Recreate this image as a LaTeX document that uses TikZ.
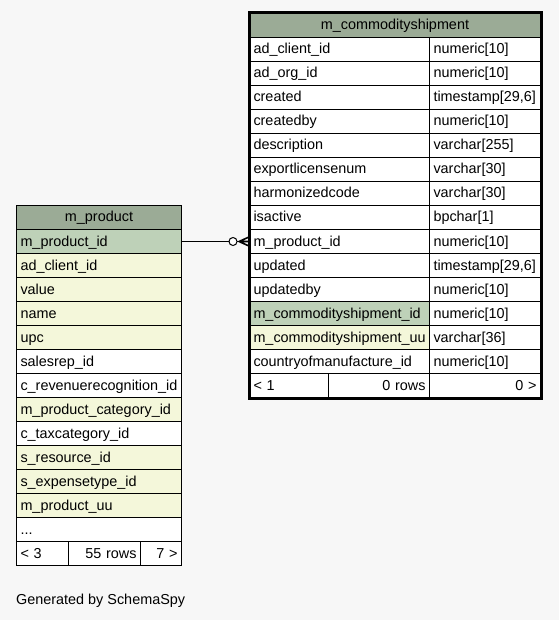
\documentclass[tikz,border=0pt]{standalone}
\usepackage{fontspec}
\setmainfont{Liberation Sans}
\definecolor{bg}{HTML}{F7F7F7}
\definecolor{hdr}{HTML}{9BAB96}
\definecolor{pk}{HTML}{BED1B8}
\definecolor{fk}{HTML}{F4F7DA}
\begin{document}
\begin{tikzpicture}[x=1pt,y=-1pt,
  cell/.style={draw=black, line width=1pt, anchor=north west, minimum height=24pt,
    inner xsep=4pt, inner ysep=0pt, text height=11.5pt, text depth=2.5pt,
    font=\fontsize{14.4}{16}\selectfont, align=left, fill=white},
  hdrcell/.style={cell, fill=hdr, align=center},
  pkcell/.style={cell, fill=pk},
  fkcell/.style={cell, fill=fk},
  rcell/.style={cell, align=right},
  ca/.style={minimum width=180pt, text width=172pt},
  cb/.style={minimum width=111pt, text width=103pt},
  pa/.style={minimum width=165pt, text width=157pt},
  conn/.style={draw=black, line width=1pt}]
\useasboundingbox (0,0) rectangle (559,620);
\fill[bg] (0,0) rectangle (559,620);

% right table
\node[hdrcell, minimum width=291pt, text width=283pt] (ch) at (249,13) {\mbox{m\_commodityshipment}};
\node[cell,ca] (c1) at (249,37) {\mbox{ad\_client\_id}};
\node[cell,cb] (t1) at (429,37) {\mbox{numeric[10]}};
\node[cell,ca] (c2) at (249,61) {\mbox{ad\_org\_id}};
\node[cell,cb] (t2) at (429,61) {\mbox{numeric[10]}};
\node[cell,ca] (c3) at (249,85) {\mbox{created}};
\node[cell,cb] (t3) at (429,85) {\mbox{timestamp[29,6]}};
\node[cell,ca] (c4) at (249,109) {\mbox{createdby}};
\node[cell,cb] (t4) at (429,109) {\mbox{numeric[10]}};
\node[cell,ca] (c5) at (249,133) {\mbox{description}};
\node[cell,cb] (t5) at (429,133) {\mbox{varchar[255]}};
\node[cell,ca] (c6) at (249,157) {\mbox{exportlicensenum}};
\node[cell,cb] (t6) at (429,157) {\mbox{varchar[30]}};
\node[cell,ca] (c7) at (249,181) {\mbox{harmonizedcode}};
\node[cell,cb] (t7) at (429,181) {\mbox{varchar[30]}};
\node[cell,ca] (c8) at (249,205) {\mbox{isactive}};
\node[cell,cb] (t8) at (429,205) {\mbox{bpchar[1]}};
\node[cell,ca] (c9) at (249,229) {\mbox{m\_product\_id}};
\node[cell,cb] (t9) at (429,229) {\mbox{numeric[10]}};
\node[cell,ca] (c10) at (249,253) {\mbox{updated}};
\node[cell,cb] (t10) at (429,253) {\mbox{timestamp[29,6]}};
\node[cell,ca] (c11) at (249,277) {\mbox{updatedby}};
\node[cell,cb] (t11) at (429,277) {\mbox{numeric[10]}};
\node[pkcell,ca] (c12) at (249,301) {\mbox{m\_commodityshipment\_id}};
\node[cell,cb] (t12) at (429,301) {\mbox{numeric[10]}};
\node[fkcell,ca] (c13) at (249,325) {\mbox{m\_commodityshipment\_uu}};
\node[cell,cb] (t13) at (429,325) {\mbox{varchar[36]}};
\node[cell,ca] (c14) at (249,349) {\mbox{countryofmanufacture\_id}};
\node[cell,cb] (t14) at (429,349) {\mbox{numeric[10]}};
\node[cell, minimum width=79pt, text width=71pt] (cf1) at (249,373) {\mbox{< 1}};
\node[rcell, minimum width=101pt, text width=93pt] (cf2) at (328,373) {\mbox{0 rows}};
\node[rcell, cb] (cf3) at (429,373) {\mbox{0 >}};
\draw[line width=3pt] (ch.north west) rectangle (cf3.south east);

% left table
\node[hdrcell, pa, align=center] (ph) at (16,205) {\mbox{m\_product}};
\node[pkcell,pa] (p1) at (16,229) {\mbox{m\_product\_id}};
\node[fkcell,pa] (p2) at (16,253) {\mbox{ad\_client\_id}};
\node[fkcell,pa] (p3) at (16,277) {\mbox{value}};
\node[fkcell,pa] (p4) at (16,301) {\mbox{name}};
\node[fkcell,pa] (p5) at (16,325) {\mbox{upc}};
\node[cell,pa] (p6) at (16,349) {\mbox{salesrep\_id}};
\node[cell,pa] (p7) at (16,373) {\mbox{c\_revenuerecognition\_id}};
\node[fkcell,pa] (p8) at (16,397) {\mbox{m\_product\_category\_id}};
\node[cell,pa] (p9) at (16,421) {\mbox{c\_taxcategory\_id}};
\node[fkcell,pa] (p10) at (16,445) {\mbox{s\_resource\_id}};
\node[fkcell,pa] (p11) at (16,469) {\mbox{s\_expensetype\_id}};
\node[fkcell,pa] (p12) at (16,493) {\mbox{m\_product\_uu}};
\node[cell,pa] (p13) at (16,517) {\mbox{...}};
\node[cell, minimum width=52pt, text width=44pt] (pf1) at (16,541) {\mbox{< 3}};
\node[rcell, minimum width=72pt, text width=64pt] (pf2) at (68,541) {\mbox{55 rows}};
\node[rcell, minimum width=41pt, text width=33pt] (pf3) at (140,541) {\mbox{7 >}};

% connector
\draw[conn] (p1.east) -- (c9.west);
\draw[conn, fill=white] ([xshift=-16pt]c9.west) circle[radius=4pt];
\draw[line width=1.6pt] ([xshift=-10pt]c9.west) -- ([yshift=-4.5pt]c9.west)
  ([xshift=-10pt]c9.west) -- (c9.west)
  ([xshift=-10pt]c9.west) -- ([yshift=4.5pt]c9.west);

\node[anchor=base west, inner sep=0pt, font=\fontsize{14.4}{16}\selectfont] (gen) at (16,604) {Generated by SchemaSpy};
\end{tikzpicture}
\end{document}
